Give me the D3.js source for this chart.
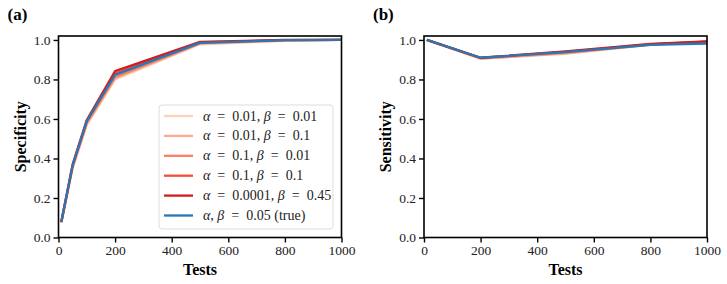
<!DOCTYPE html>
<html>
<head>
<meta charset="utf-8">
<script src="https://cdn.jsdelivr.net/npm/d3@7"></script>
<style>
  body { margin: 0; background: #fff; }
  text { font-family: "Liberation Serif", "DejaVu Serif", serif; fill: #000; }
  .tick text { font-size: 13.5px; }
  .axis-label { font-size: 16px; font-weight: bold; }
</style>
</head>
<body>
<div id="chart"></div>
<script>
// data
var testsA = [10, 50, 100, 200, 500, 800, 1000];
var testsB = [10, 200, 500, 800, 1000];

var seriesNames = [
  ["0.01", "0.01"],
  ["0.01", "0.1"],
  ["0.1", "0.01"],
  ["0.1", "0.1"],
  ["0.0001", "0.45"],
  [null, "0.05"]
];
var seriesColors = ["#fdd0bc", "#fcab8f", "#fc8060", "#f44d38", "#d01d1f", "#2878b5"];

var specificity = [
  [0.074, 0.350, 0.570, 0.800, 0.978, 0.995, 1.0],
  [0.075, 0.355, 0.575, 0.806, 0.981, 0.997, 1.0],
  [0.077, 0.360, 0.580, 0.812, 0.984, 0.998, 1.0],
  [0.079, 0.365, 0.588, 0.830, 0.988, 0.999, 1.0],
  [0.080, 0.370, 0.595, 0.842, 0.990, 1.0, 1.0],
  [0.080, 0.365, 0.590, 0.823, 0.985, 0.999, 1.0]
];
var sensitivity = [
  [1.0, 0.905, 0.930, 0.975, 0.990],
  [1.0, 0.906, 0.932, 0.976, 0.990],
  [1.0, 0.907, 0.935, 0.977, 0.991],
  [1.0, 0.909, 0.940, 0.978, 0.992],
  [1.0, 0.910, 0.942, 0.980, 0.993],
  [1.0, 0.910, 0.938, 0.975, 0.982]
];

var xTicks = [0, 200, 400, 600, 800, 1000];
var yTicks = [0, 0.2, 0.4, 0.6, 0.8, 1.0];

var svg = d3.select("#chart").append("svg")
  .attr("width", 727)
  .attr("height", 284);

var plotW = 283, plotH = 201.5;
var plotTop = 36;

function drawPanel(left, tests, values, yLabel, tag) {
  var g = svg.append("g").attr("transform", `translate(${left}, ${plotTop})`);

  var x = d3.scaleLinear().domain([0, 1000]).range([0, plotW]);
  var y = d3.scaleLinear().domain([0, 1.02]).range([plotH, 0]);

  var line = d3.line()
    .x((d, i) => x(tests[i]))
    .y(d => y(d));

  values.forEach(function(vals, i) {
    g.append("path")
      .datum(vals)
      .attr("fill", "none")
      .attr("stroke", seriesColors[i])
      .attr("stroke-width", 2.3)
      .attr("stroke-linejoin", "round")
      .attr("d", line);
  });

  // frame
  g.append("rect")
    .attr("width", plotW).attr("height", plotH)
    .attr("fill", "none").attr("stroke", "#000").attr("stroke-width", 1.6);

  var xAxis = g.append("g")
    .attr("transform", `translate(0, ${plotH})`)
    .call(d3.axisBottom(x).tickValues(xTicks).tickSize(5).tickPadding(3).tickFormat(d3.format("d")));
  var yAxis = g.append("g")
    .call(d3.axisLeft(y).tickValues(yTicks).tickSize(5).tickPadding(3).tickFormat(d3.format(".1f")));

  [xAxis, yAxis].forEach(function(a) {
    a.select(".domain").remove();
    a.selectAll(".tick line").attr("stroke", "#000").attr("stroke-width", 1.4);
    a.selectAll(".tick text").attr("font-family", null).attr("font-size", null).style("fill", "#222");
  });

  g.append("text")
    .attr("class", "axis-label")
    .attr("x", plotW / 2)
    .attr("y", plotH + 37)
    .attr("text-anchor", "middle")
    .text("Tests");

  g.append("text")
    .attr("class", "axis-label")
    .attr("transform", "rotate(-90)")
    .attr("x", -plotH / 2)
    .attr("y", -33)
    .attr("text-anchor", "middle")
    .text(yLabel);

  svg.append("text")
    .attr("x", left - 51)
    .attr("y", 20)
    .attr("font-size", 17)
    .attr("font-weight", "bold")
    .text(tag);

  return g;
}

var gA = drawPanel(58.5, testsA, specificity, "Specificity", "(a)");
drawPanel(424, testsB, sensitivity, "Sensitivity", "(b)");

// legend in panel (a)
var legend = gA.append("g").attr("transform", "translate(100.5, 69)");
legend.append("rect")
  .attr("width", 174).attr("height", 124).attr("rx", 3)
  .attr("fill", "#fff").attr("fill-opacity", 0.85)
  .attr("stroke", "#ddd").attr("stroke-width", 1);

var eq = "\u2002=\u2002";
seriesNames.forEach(function(n, i) {
  var yy = 11 + i * 19.9;
  legend.append("line")
    .attr("x1", 5).attr("x2", 34).attr("y1", yy).attr("y2", yy)
    .attr("stroke", seriesColors[i]).attr("stroke-width", 2.3);
  var t = legend.append("text")
    .attr("x", 44).attr("y", yy + 4.5)
    .attr("font-size", 14).style("fill", "#222");
  if (n[0] !== null) {
    t.append("tspan").attr("font-style", "italic").text("α");
    t.append("tspan").text(eq + n[0] + ", ");
    t.append("tspan").attr("font-style", "italic").text("β");
    t.append("tspan").text(eq + n[1]);
  } else {
    t.append("tspan").attr("font-style", "italic").text("α");
    t.append("tspan").text(", ");
    t.append("tspan").attr("font-style", "italic").text("β");
    t.append("tspan").text(eq + n[1] + " (true)");
  }
});
</script>
</body>
</html>
